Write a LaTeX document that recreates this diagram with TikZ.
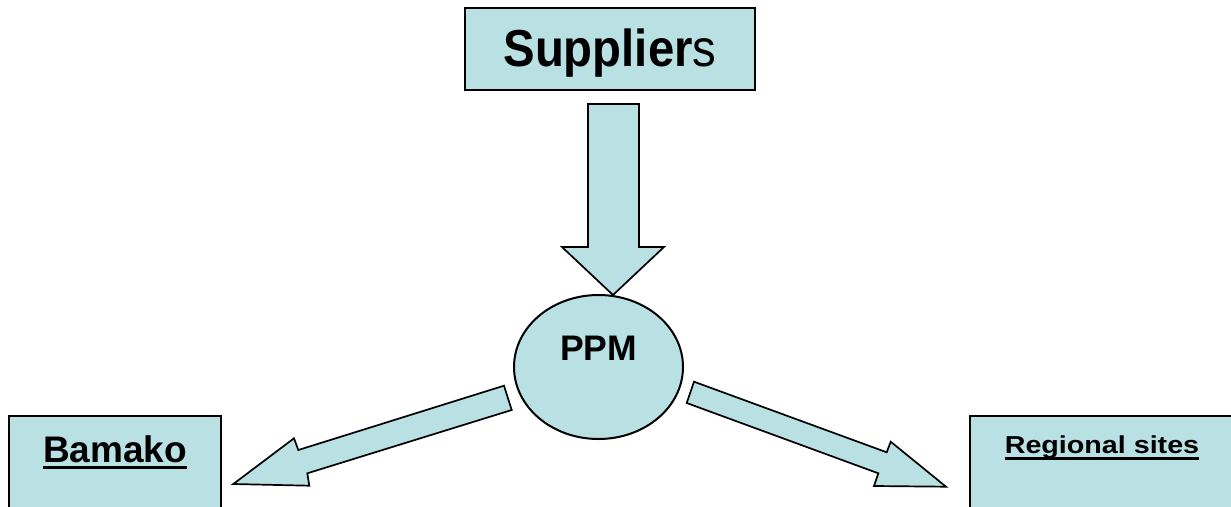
\documentclass[tikz,border=0pt]{standalone}
\usepackage{fontspec}
\setmainfont{Liberation Sans}
\definecolor{fillblue}{HTML}{B9E0E3}
\tikzset{
  boxshape/.style={draw=black, fill=fillblue, line width=2pt},
  blockarrow/.style={draw=black, fill=fillblue, line width=1.7pt, line join=miter},
  lbl/.style={anchor=base, inner sep=0pt, font=\bfseries},
  uline/.style={line width=3pt}
}
\begin{document}
\begin{tikzpicture}[x=1pt, y=-1pt]
\clip (0,0) rectangle (1231,506);
\fill[white] (0,0) rectangle (1231,506);
% boxes
\node[boxshape, minimum width=290pt, minimum height=82pt, inner sep=0pt] (sup) at (610,48.5) {};
\draw[boxshape] (9,416) rectangle (221,530);
\coordinate (bam) at (115,473);
\draw[boxshape] (970,416) rectangle (1260,530);
\coordinate (reg) at (1115,473);
% ellipse
\draw[boxshape] (598.5,367) ellipse [x radius=84.5, y radius=72];
\coordinate (ppm) at (598.5,367);
% texts
\node[lbl] (suptext) at (610,66.7) {\fontsize{52}{56}\selectfont\scalebox{0.91}[1]{Supplier\mdseries s}};
\node[lbl] (ppmtext) at (598.5,360) {\fontsize{35.5}{40}\selectfont PPM};
\node[lbl] (bamtext) at (115,462) {\fontsize{37}{40}\selectfont Bamako};
\draw[uline] ([yshift=-5.5pt]bamtext.base west) -- ([yshift=-5.5pt]bamtext.base east);
\node[lbl] (regtext) at (1102,453.5) {\fontsize{24.5}{28}\selectfont\scalebox{1.17}[1]{Regional sites}};
\draw[uline] ([yshift=-5pt]regtext.base west) -- ([yshift=-5pt]regtext.base east);
% block arrows
\draw[blockarrow] (588,104) -- (639,104) -- (639,247) -- (664,247) -- (613,295) -- (562,247) -- (588,247) -- cycle;
\draw[blockarrow] (504,385.7) -- (511.7,410) -- (307.3,473.3) -- (309.3,485.7) -- (233.3,484) -- (294,438.3) -- (298.3,450) -- cycle;
\draw[blockarrow] (694,381.7) -- (886.7,452.3) -- (890.7,441.7) -- (946,486.7) -- (874,486) -- (878.3,473.3) -- (686.7,403) -- cycle;
\end{tikzpicture}
\end{document}
